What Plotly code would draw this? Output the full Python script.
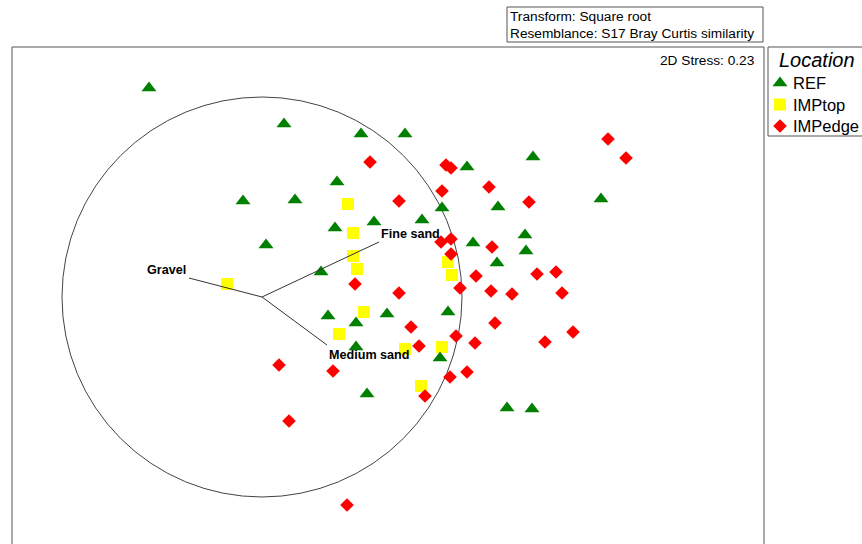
import plotly.graph_objects as go

# nMDS ordination coordinates (unit circle = vector overlay scale)
ref_x = [-0.565, 0.11, 0.495, 0.715, 1.025, 1.355, -0.095, 0.165, 0.375, 0.56,
         0.80, 0.90, 0.365, 0.02, 0.295, 1.055, 1.18, 1.315, 1.32, 1.175,
         1.695, 0.93, 0.625, 0.47, 0.33, 0.47, 0.89, 0.525, 1.225, 1.35]
ref_y = [1.045, 0.865, 0.815, 0.815, 0.65, 0.70, 0.48, 0.485, 0.575, 0.375,
         0.385, 0.445, 0.345, 0.26, 0.125, 0.27, 0.45, 0.31, 0.23, 0.17,
         0.49, -0.075, -0.085, -0.13, -0.095, -0.25, -0.305, -0.485, -0.555, -0.56]

imptop_x = [0.43, 0.455, 0.455, 0.475, 0.93, 0.95, -0.175, 0.51, 0.385, 0.715, 0.90, 0.795]
imptop_y = [0.465, 0.32, 0.205, 0.14, 0.175, 0.11, 0.065, -0.075, -0.185, -0.26, -0.25, -0.445]

impedge_x = [1.73, 1.82, 0.54, 0.92, 0.945, 1.135, 0.90, 0.685, 1.335, 0.895,
             0.945, 0.945, 1.15, 1.07, 0.465, 0.685, 0.99, 1.145, 1.25, 1.375,
             1.47, 1.50, 1.555, 1.415, 0.745, 1.165, 0.97, 0.785, 1.065, 0.085,
             0.355, 1.025, 0.94, 0.815, 0.135, 0.425]
impedge_y = [0.79, 0.695, 0.675, 0.66, 0.645, 0.55, 0.53, 0.48, 0.475, 0.275,
             0.29, 0.215, 0.25, 0.105, 0.065, 0.02, 0.045, 0.03, 0.015, 0.115,
             0.125, 0.02, -0.175, -0.225, -0.15, -0.13, -0.195, -0.245, -0.23, -0.34,
             -0.37, -0.375, -0.40, -0.495, -0.62, -1.04]

# Environmental vectors (Pearson correlation overlay)
vec_names = ["Fine sand", "Gravel", "Medium sand"]
vec_x = [0.585, -0.365, 0.325]
vec_y = [0.275, 0.095, -0.24]

groups = ["REF", "IMPtop", "IMPedge"]
stress = 0.23

W, H = 862, 544
FONT = "Arial, Liberation Sans, sans-serif"
# plot frame in pixels
PL, PR, PT = 12, 764, 47
SCALE = 200.0            # pixels per ordination unit
CX, CY = 262, 297        # origin position in pixels

xr = [(PL - CX) / SCALE, (PR - CX) / SCALE]
yr = [(CY - H) / SCALE, (CY - PT) / SCALE]

styles = {
    "REF": dict(symbol="triangle-up", color="#008000", size=13),
    "IMPtop": dict(symbol="square", color="#FFFF00", size=12),
    "IMPedge": dict(symbol="diamond", color="#FF0000", size=10.5),
}
data = {"REF": (ref_x, ref_y), "IMPtop": (imptop_x, imptop_y), "IMPedge": (impedge_x, impedge_y)}

fig = go.Figure()
for g in ["IMPtop", "IMPedge", "REF"]:
    s = styles[g]
    fig.add_trace(go.Scatter(
        x=data[g][0], y=data[g][1], mode="markers", name=g, showlegend=False,
        marker=dict(symbol=s["symbol"], color=s["color"], size=s["size"], line=dict(width=0)),
        xaxis="x", yaxis="y", hoverinfo="skip"))

# vector lines from origin
for name, vx, vy in zip(vec_names, vec_x, vec_y):
    fig.add_trace(go.Scatter(x=[0, vx], y=[0, vy], mode="lines", showlegend=False,
                             line=dict(color="#333333", width=1), hoverinfo="skip"))

label_offsets = {"Fine sand": ("left", 0, 8), "Gravel": ("right", -1, 8), "Medium sand": ("left", 0, -10)}
annotations = []
for name, vx, vy in zip(vec_names, vec_x, vec_y):
    anchor, dx, dy = label_offsets[name]
    annotations.append(dict(x=vx, y=vy, xref="x", yref="y", text="<b>%s</b>" % name,
                            showarrow=False, xanchor=anchor, yanchor="middle",
                            xshift=dx, yshift=dy, font=dict(family=FONT, size=12.6, color="#000")))

# stress label
annotations.append(dict(x=757 / W, y=1 - 60 / H, xref="paper", yref="paper",
                        text="2D Stress: %.2f" % stress, showarrow=False, xanchor="right",
                        yanchor="middle", font=dict(family=FONT, size=13.7, color="#000")))
# transform box text
annotations.append(dict(x=508 / W, y=1 - 16 / H, xref="paper", yref="paper",
                        text="Transform: Square root", showarrow=False, xanchor="left",
                        yanchor="middle", font=dict(family=FONT, size=13.7, color="#000")))
annotations.append(dict(x=508 / W, y=1 - 33 / H, xref="paper", yref="paper",
                        text="Resemblance: S17 Bray Curtis similarity", showarrow=False,
                        xanchor="left", yanchor="middle", font=dict(family=FONT, size=13.7, color="#000")))

# legend panel (own axes, pixel units from panel top-left)
LG_L, LG_T, LG_B = 768, 47, 136
annotations.append(dict(x=9, y=13, xref="x2", yref="y2", text="<i>Location</i>",
                        showarrow=False, xanchor="left", yanchor="middle",
                        font=dict(family=FONT, size=20, color="#000")))
row0, row_h = 36, 21.5
for i, g in enumerate(groups):
    s = styles[g]
    ry = row0 + i * row_h
    fig.add_trace(go.Scatter(x=[12], y=[ry], mode="markers", showlegend=False,
                             marker=dict(symbol=s["symbol"], color=s["color"], size=s["size"],
                                         line=dict(width=0)),
                             xaxis="x2", yaxis="y2", hoverinfo="skip"))
    annotations.append(dict(x=23, y=ry, xref="x2", yref="y2", text=g, showarrow=False,
                            xanchor="left", yanchor="middle",
                            font=dict(family=FONT, size=16.5, color="#000")))

frame_col = "#555555"
shapes = [
    dict(type="circle", xref="x", yref="y", x0=-1, x1=1, y0=-1, y1=1,
         line=dict(color="#444444", width=1), layer="below"),
    dict(type="line", xref="x domain", yref="y domain", x0=0, x1=0, y0=0, y1=1,
         line=dict(color=frame_col, width=1)),
    dict(type="line", xref="x domain", yref="y domain", x0=1, x1=1, y0=0, y1=1,
         line=dict(color=frame_col, width=1)),
    dict(type="line", xref="x domain", yref="y domain", x0=0, x1=1, y0=1, y1=1,
         line=dict(color=frame_col, width=1)),
    dict(type="rect", xref="paper", yref="paper", x0=507 / W, x1=763 / W,
         y0=1 - 42 / H, y1=1 - 7 / H, line=dict(color=frame_col, width=1)),
    dict(type="rect", xref="paper", yref="paper", x0=LG_L / W, x1=(W + 10) / W,
         y0=1 - LG_B / H, y1=1 - LG_T / H, line=dict(color=frame_col, width=1)),
]

fig.update_layout(
    width=W, height=H, margin=dict(l=0, r=0, t=0, b=0, autoexpand=False),
    paper_bgcolor="white", plot_bgcolor="white",
    xaxis=dict(domain=[PL / W, PR / W], range=xr, visible=False, fixedrange=True),
    yaxis=dict(domain=[0, 1 - PT / H], range=yr, visible=False, fixedrange=True),
    xaxis2=dict(domain=[LG_L / W, 1], range=[0, W - LG_L], visible=False, anchor="y2"),
    yaxis2=dict(domain=[1 - LG_B / H, 1 - LG_T / H], range=[LG_B - LG_T, 0], visible=False, anchor="x2"),
    annotations=annotations, shapes=shapes, showlegend=False,
)

fig.write_html("out.html")
